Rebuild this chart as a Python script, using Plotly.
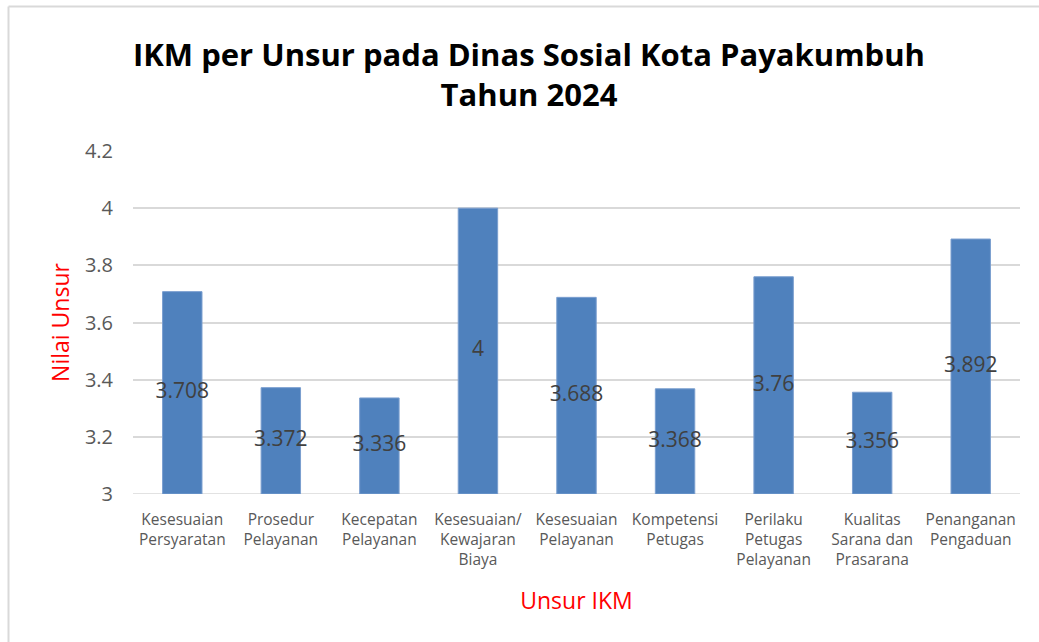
import plotly.graph_objects as go

categories = ["Kesesuaian<br>Persyaratan", "Prosedur<br>Pelayanan", "Kecepatan<br>Pelayanan",
              "Kesesuaian/<br>Kewajaran<br>Biaya", "Kesesuaian<br>Pelayanan", "Kompetensi<br>Petugas",
              "Perilaku<br>Petugas<br>Pelayanan", "Kualitas<br>Sarana dan<br>Prasarana", "Penanganan<br>Pengaduan"]
values = [3.708, 3.372, 3.336, 4, 3.688, 3.368, 3.76, 3.356, 3.892]
labels = ["3.708", "3.372", "3.336", "4", "3.688", "3.368", "3.76", "3.356", "3.892"]
y_base = 3.0
y_max = 4.2
y_ticks = [3, 3.2, 3.4, 3.6, 3.8, 4, 4.2]
y_ticktext = ["3", "3.2", "3.4", "3.6", "3.8", "4", "4.2"]

W, H = 1039, 642
L, T = 133, 151
R = W - 1020
B = H - 494
pw, ph = W - L - R, H - T - B

FONT = "Open Sans"

fig = go.Figure()
fig.add_trace(go.Bar(
    x=categories, y=[v - y_base for v in values], base=y_base,
    marker=dict(color="#4F81BD", line=dict(color="#7A9ECF", width=1)),
    hoverinfo="skip", showlegend=False,
))
fig.add_trace(go.Scatter(
    x=categories, y=[(v + y_base) / 2 for v in values], mode="text",
    text=labels, textposition="middle center",
    textfont=dict(family=FONT, size=21, color="#404040"),
    hoverinfo="skip", showlegend=False,
))

def px_x(p):
    return (p - L) / pw

def px_y(p):
    return (H - B - p) / ph

border = dict(color="#D9D9D9", width=2)
fig.add_shape(type="line", xref="paper", yref="paper",
              x0=px_x(8.5), x1=px_x(1060), y0=px_y(6.5), y1=px_y(6.5), line=border, layer="below")
fig.add_shape(type="line", xref="paper", yref="paper",
              x0=px_x(8.5), x1=px_x(8.5), y0=px_y(6.5), y1=px_y(660), line=border, layer="below")

fig.update_layout(
    width=W, height=H,
    margin=dict(l=L, r=R, t=T, b=B),
    paper_bgcolor="white", plot_bgcolor="white",
    bargap=0.6,
    title=dict(text="<b>IKM per Unsur pada Dinas Sosial Kota Payakumbuh<br>Tahun 2024</b>",
               x=529 / W, xanchor="center", xref="container",
               y=1 - 66 / H, yanchor="middle",
               font=dict(family=FONT, size=31, color="black")),
    xaxis=dict(
        tickfont=dict(family=FONT, size=15.5, color="#595959"),
        showgrid=False, showline=False, ticks="", tickangle=0,
        ticklabelstandoff=14,
        title=dict(text="Unsur IKM", font=dict(family=FONT, size=23, color="red"), standoff=24),
    ),
    yaxis=dict(
        range=[y_base, y_max], tickvals=y_ticks, ticktext=y_ticktext,
        tickfont=dict(family=FONT, size=20, color="#595959"),
        showgrid=True, gridcolor="#D9D9D9", gridwidth=1.5,
        zeroline=False, showline=False, ticks="", ticklen=0,
        ticklabelstandoff=19,
        title=dict(text="Nilai Unsur", font=dict(family=FONT, size=23, color="red"), standoff=8),
    ),
)
fig.add_hline(y=y_base, line=dict(color="#D9D9D9", width=1.5), layer="below")

fig.write_html(
    "out.html",
    config={"displayModeBar": False},
    post_script="document.body.style.margin='0';document.body.style.overflow='hidden';",
)
